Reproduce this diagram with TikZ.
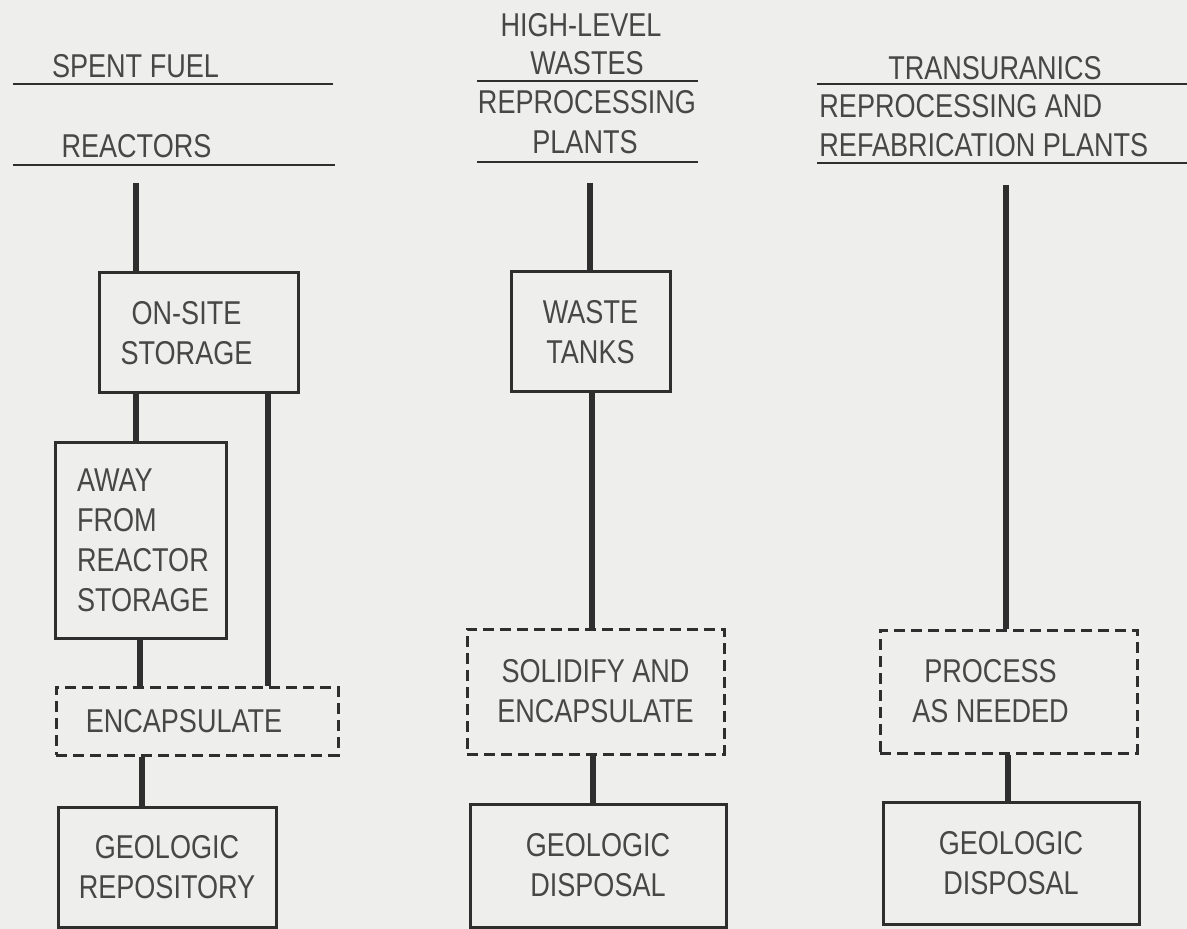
\documentclass[tikz,border=0pt]{standalone}
\usepackage{fontspec}
\setmainfont{Liberation Sans}[FakeStretch=0.82]
\definecolor{bg}{HTML}{EEEEEC}
\definecolor{ink}{HTML}{2E2E2E}
\definecolor{txtc}{HTML}{474747}
\begin{document}
\begin{tikzpicture}[x=0.5pt,y=-0.5pt,
  txt/.style={font=\fontsize{16.5}{20}\selectfont, text=txtc},
  box/.style={draw=ink, line width=1.5pt, inner sep=0pt, align=center, txt},
  dbox/.style={box, dash pattern=on 5.5pt off 3pt},
  conn/.style={draw=ink, line width=2.8pt},
  rulel/.style={draw=ink, line width=1.4pt},
  head/.style={txt, anchor=base, inner sep=0pt}]
\fill[bg] (0,0) rectangle (1187,929);
\useasboundingbox (0,0) rectangle (1187,929);

% ---------- headers ----------
\draw[rulel] (13,84) -- (333,84);
\draw[rulel] (13,165) -- (335,165);
\node[head] (h1a) at (135.5,78) {SPENT FUEL};
\node[head] (h1b) at (136.5,158) {REACTORS};

\draw[rulel] (477,81) -- (698,81);
\draw[rulel] (477,162) -- (698,162);
\node[head] (h2a) at (581,37) {HIGH-LEVEL};
\node[head] (h2b) at (587,75) {WASTES};
\node[head] (h2c) at (587,114) {REPROCESSING};
\node[head] (h2d) at (585,154) {PLANTS};

\draw[rulel] (817,84) -- (1187,84);
\draw[rulel] (817,163) -- (1187,163);
\node[head] (h3a) at (995,80) {TRANSURANICS};
\node[head, anchor=base west] (h3b) at (819,118) {REPROCESSING AND};
\node[head, anchor=base west] (h3c) at (819,157) {REFABRICATION PLANTS};

% ---------- column 1 ----------
\node[box, minimum width=99.5pt, minimum height=60pt] (onsite) at (198.5,333) {ON-SITE\hspace*{12pt}\\STORAGE\hspace*{12pt}};
\node[box, minimum height=97.5pt, text width=63.5pt, inner xsep=11pt, align=left] (away) at (140.5,540.5) {AWAY\\FROM\\REACTOR\\STORAGE};
\node[dbox, minimum width=141pt, minimum height=34pt] (encap) at (197,721) {ENCAPSULATE\hspace*{13pt}};
\node[box, minimum width=109pt, minimum height=60pt] (georep) at (167,867) {GEOLOGIC\\REPOSITORY};

\coordinate (c1top) at (136,183);
\coordinate (xa) at (136,0);
\coordinate (xb) at (140,0);
\coordinate (xc) at (142,0);
\coordinate (xr) at (268,0);
\draw[conn] (c1top) -- (onsite.north -| xa);
\draw[conn] (onsite.south -| xa) -- (away.north -| xa);
\draw[conn] (away.south -| xb) -- (encap.north -| xb);
\draw[conn] (onsite.south -| xr) -- (encap.north -| xr);
\draw[conn] (encap.south -| xc) -- (georep.north -| xc);

% ---------- column 2 ----------
\node[box, minimum width=79.5pt, minimum height=60pt] (tanks) at (590.5,332) {WASTE\\TANKS};
\node[dbox, minimum width=128.5pt, minimum height=62.5pt] (solid) at (595.5,691.5) {SOLIDIFY AND\\ENCAPSULATE};
\node[box, minimum width=128pt, minimum height=61.5pt] (geod2) at (598,865.5) {GEOLOGIC\\DISPOSAL};

\coordinate (c2top) at (590,183);
\coordinate (ya) at (592,0);
\coordinate (yb) at (593,0);
\draw[conn] (c2top) -- (tanks.north -| c2top);
\draw[conn] (tanks.south -| ya) -- (solid.north -| ya);
\draw[conn] (solid.south -| yb) -- (geod2.north -| yb);

% ---------- column 3 ----------
\node[dbox, minimum width=128.5pt, minimum height=61.5pt] (proc) at (1008.5,691.5) {PROCESS\hspace*{18pt}\\AS NEEDED\hspace*{18pt}};
\node[box, minimum width=128pt, minimum height=61pt] (geod3) at (1011,863) {GEOLOGIC\\DISPOSAL};

\coordinate (c3top) at (1006,185);
\coordinate (za) at (1008,0);
\draw[conn] (c3top) -- (proc.north -| c3top);
\draw[conn] (proc.south -| za) -- (geod3.north -| za);
\end{tikzpicture}
\end{document}
